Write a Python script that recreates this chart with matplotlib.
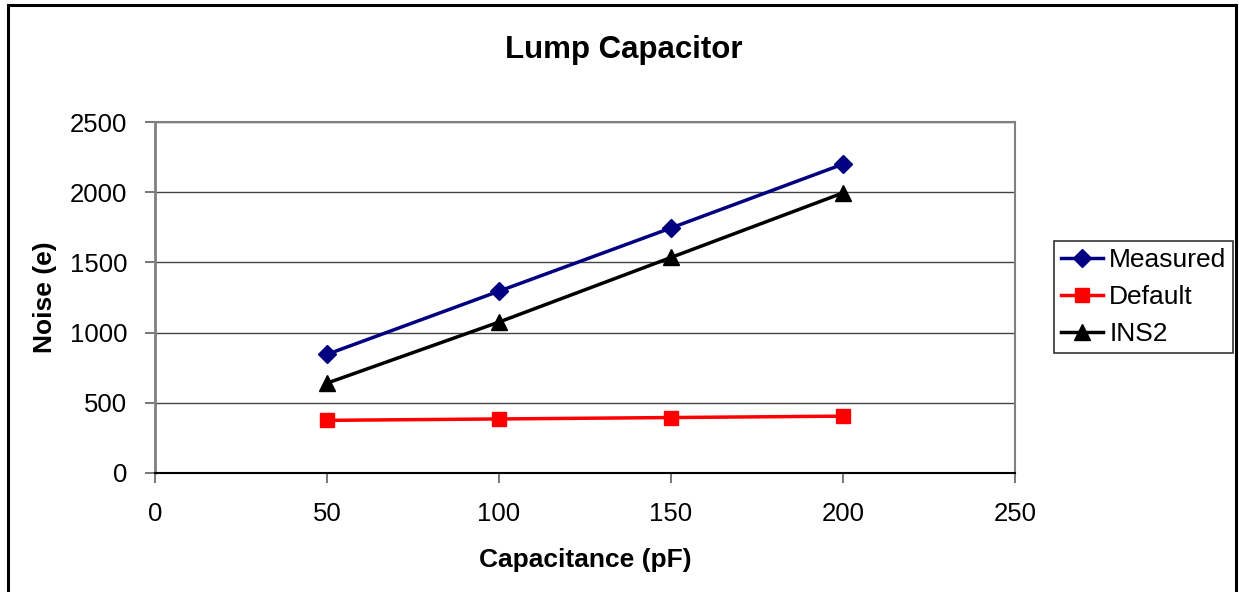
import matplotlib
matplotlib.use("Agg")
import matplotlib.pyplot as plt
from matplotlib.patches import Rectangle

plt.rcParams['font.family'] = ['Liberation Sans', 'DejaVu Sans']

capacitance = [50, 100, 150, 200]
measured = [845, 1295, 1745, 2200]
default = [375, 385, 395, 405]
ins2 = [640, 1075, 1535, 1995]

x_ticks = [0, 50, 100, 150, 200, 250]
y_ticks = [0, 500, 1000, 1500, 2000, 2500]

fig = plt.figure(figsize=(12.39, 5.92), dpi=100)
ax = fig.add_axes([155 / 1239, 1 - 473 / 592, 860 / 1239, 351 / 592])

# outer chart frame
fig.patches.append(Rectangle((8 / 1239, -0.02), 1228 / 1239, 1 - 5 / 592 + 0.02,
                             transform=fig.transFigure, fill=False,
                             edgecolor='black', linewidth=2.2))

ax.plot(capacitance, measured, color='#000080', marker='D', markersize=9,
        linewidth=2.5, label='Measured')
ax.plot(capacitance, default, color='#ff0000', marker='s', markersize=10,
        linewidth=2.5, label='Default')
ax.plot(capacitance, ins2, color='black', marker='^', markersize=11,
        linewidth=2.5, label='INS2')

ax.set_xlim(0, 250)
ax.set_ylim(0, 2500)
ax.set_xticks(x_ticks)
ax.set_yticks(y_ticks)
ax.yaxis.grid(True, color='#444444', linewidth=1)
ax.set_axisbelow(True)

for side in ['top', 'right']:
    ax.spines[side].set_color('#808080')
    ax.spines[side].set_linewidth(1.5)
ax.spines['left'].set_color('#808080')
ax.spines['left'].set_linewidth(2)
ax.spines['bottom'].set_color('black')
ax.spines['bottom'].set_linewidth(1.5)

ax.tick_params(axis='both', direction='out', length=7, width=1.2,
               labelsize=18.5, color='#606060')
ax.tick_params(axis='y', pad=13)
ax.tick_params(axis='x', pad=14)

ax.set_title('Lump Capacitor', fontsize=22.5, fontweight='bold', pad=46,
             x=(624 - 155) / 860)
ax.set_xlabel('Capacitance (pF)', fontsize=19, fontweight='bold', labelpad=16)
ax.set_ylabel('Noise (e)', fontsize=19, fontweight='bold', labelpad=9)

leg = ax.legend(loc='center left', bbox_to_anchor=(1.0453, 0.501),
                fontsize=19, frameon=True, fancybox=False, borderpad=0.25,
                handlelength=1.6, handletextpad=0.25, labelspacing=0.5,
                borderaxespad=0)
leg.get_frame().set_edgecolor('black')
leg.get_frame().set_linewidth(1.2)

fig.savefig('out.png', dpi=100)
